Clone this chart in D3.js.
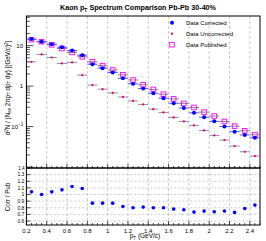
<!DOCTYPE html>
<html>
<head>
<meta charset="utf-8">
<script src="https://cdn.jsdelivr.net/npm/d3@7"></script>
<style>
  body { margin: 0; background: #fff; }
  text { font-family: "Liberation Sans", Arial, sans-serif; }
</style>
</head>
<body>
<svg id="chart" width="266" height="241"></svg>
<script>
// bin centres (GeV/c), bin width 0.1
var ptBins = [0.25, 0.35, 0.45, 0.55, 0.65, 0.75, 0.85, 0.95, 1.05, 1.15, 1.25, 1.35,
  1.45, 1.55, 1.65, 1.75, 1.85, 1.95, 2.05, 2.15, 2.25, 2.35, 2.45];
var published = [14, 12.5, 10.5, 8.5, 6.8, 5.3, 4.0, 3.2, 2.5, 1.9, 1.42, 1.08,
  0.83, 0.63, 0.485, 0.374, 0.298, 0.228, 0.182, 0.134, 0.103, 0.079, 0.063];
var corrected = [14.6, 12.5, 10.9, 9.1, 7.6, 5.8, 3.48, 2.78, 2.18, 1.56, 1.14, 0.875,
  0.664, 0.504, 0.378, 0.288, 0.219, 0.171, 0.135, 0.1005, 0.0752, 0.0624, 0.0529];
var uncorrected = [3.98, 6.07, 5.1, 3.63, 3.85, 1.87, 1.06, 0.84, 0.68, 0.54, 0.43, 0.353,
  0.27, 0.224, 0.169, 0.134, 0.107, 0.0805, 0.0607, 0.0464, 0.033, 0.0239, 0.0187];
var ratio = [1.04, 1.0, 1.04, 1.07, 1.12, 1.09, 0.87, 0.87, 0.87, 0.82, 0.80, 0.81,
  0.80, 0.80, 0.78, 0.77, 0.735, 0.75, 0.74, 0.75, 0.73, 0.79, 0.84];
var xTicks = [0.2, 0.4, 0.6, 0.8, 1, 1.2, 1.4, 1.6, 1.8, 2, 2.2, 2.4];
var ratioTicks = [0.6, 0.7, 0.8, 0.9, 1, 1.1, 1.2, 1.3];
var legendNames = ["Data Corrected", "Data Uncorrected", "Data Published"];

var svg = d3.select("#chart");
var x0 = 26.4, x1 = 260;
var top0 = 16, top1 = 168, bot0 = 168, bot1 = 225;
var halfBin = 0.05;

var x = d3.scaleLinear().domain([0.2, 2.5]).range([x0, x1]);
var y = d3.scaleLog().domain([0.0095, 54]).range([top1, top0]);
var yr = d3.scaleLinear().domain([0.54, 1.4]).range([bot1, bot0]);

// title
svg.append("text").attr("x", 138).attr("y", 10).attr("text-anchor", "middle")
  .attr("font-size", 7.2).attr("font-weight", "bold")
  .html('Kaon p<tspan dy="2" font-size="5">T</tspan><tspan dy="-2"> Spectrum Comparison Pb-Pb 30-40%</tspan>');

// vertical grid lines in both pads
[[top0, top1], [bot0, bot1]].forEach(function(r) {
  svg.append("g").selectAll("line")
    .data(xTicks.slice(1))
    .enter().append("line")
    .attr("x1", function(d) { return x(d); })
    .attr("x2", function(d) { return x(d); })
    .attr("y1", r[0]).attr("y2", r[1])
    .attr("stroke", "#bbb").attr("stroke-width", 0.8)
    .attr("stroke-dasharray", "3,2");
});

// horizontal grid in ratio pad
svg.append("g").selectAll("line")
  .data(ratioTicks)
  .enter().append("line")
  .attr("x1", x0).attr("x2", x1)
  .attr("y1", function(d) { return yr(d); })
  .attr("y2", function(d) { return yr(d); })
  .attr("stroke", "#bbb").attr("stroke-width", 0.8)
  .attr("stroke-dasharray", "2,2");

// frames
svg.append("rect").attr("x", x0).attr("y", top0).attr("width", x1 - x0).attr("height", top1 - top0)
  .attr("fill", "none").attr("stroke", "#000").attr("stroke-width", 1);
svg.append("rect").attr("x", x0).attr("y", bot0).attr("width", x1 - x0).attr("height", bot1 - bot0)
  .attr("fill", "none").attr("stroke", "#000").attr("stroke-width", 1);

// log y ticks (inward)
var logTicks = [];
[0.01, 0.1, 1, 10].forEach(function(dec) {
  for (var k = 1; k <= 9; k++) {
    var v = dec * k;
    if (v >= y.domain()[0] && v <= y.domain()[1]) logTicks.push({ v: v, major: k === 1 });
  }
});
svg.append("g").selectAll("line")
  .data(logTicks)
  .enter().append("line")
  .attr("x1", x0)
  .attr("x2", function(d) { return x0 + (d.major ? 7 : 3.5); })
  .attr("y1", function(d) { return y(d.v); })
  .attr("y2", function(d) { return y(d.v); })
  .attr("stroke", "#000").attr("stroke-width", 0.7);

var logLabels = [{ v: 10, t: "10", e: "" }, { v: 1, t: "1", e: "" }, { v: 0.1, t: "10", e: "\u22121" }];
logLabels.forEach(function(d) {
  var t = svg.append("text").attr("x", d.e ? 18 : 23).attr("y", y(d.v) + 2.2)
    .attr("text-anchor", "end").attr("font-size", 6);
  t.text(d.t);
  if (d.e) {
    svg.append("text").attr("x", 18).attr("y", y(d.v) - 0.5)
      .attr("font-size", 4.5).text(d.e);
  }
});

// x ticks top pad bottom and ratio pad bottom
var xMinor = d3.range(0.2, 2.5001, 0.05);
[top1, bot1].forEach(function(yy) {
  svg.append("g").selectAll("line")
    .data(xMinor)
    .enter().append("line")
    .attr("x1", function(d) { return x(d); })
    .attr("x2", function(d) { return x(d); })
    .attr("y1", yy)
    .attr("y2", function(d) {
      return yy - (Math.abs(d * 5 - Math.round(d * 5)) < 1e-6 ? 4 : 2);
    })
    .attr("stroke", "#000").attr("stroke-width", 0.7);
});

svg.append("g").selectAll("text")
  .data(xTicks)
  .enter().append("text")
  .attr("x", function(d) { return x(d); })
  .attr("y", bot1 + 7.5)
  .attr("text-anchor", "middle").attr("font-size", 6)
  .text(function(d) { return d3.format("")(d); });

// ratio y ticks
svg.append("g").selectAll("line")
  .data(ratioTicks.concat([1.4]))
  .enter().append("line")
  .attr("x1", x0).attr("x2", x0 + 4)
  .attr("y1", function(d) { return yr(d); })
  .attr("y2", function(d) { return yr(d); })
  .attr("stroke", "#000").attr("stroke-width", 0.7);
svg.append("g").selectAll("text")
  .data(ratioTicks)
  .enter().append("text")
  .attr("x", x0 - 2)
  .attr("y", function(d) { return yr(d) + 1.8; })
  .attr("text-anchor", "end").attr("font-size", 5)
  .text(function(d) { return d3.format("")(d); });
svg.append("text").attr("x", x0 - 2).attr("y", bot0 + 1.5).attr("text-anchor", "end")
  .attr("font-size", 4.5).text("1.4");

// axis titles
svg.append("text")
  .attr("transform", "translate(9.5," + 88 + ") rotate(-90)")
  .attr("text-anchor", "middle").attr("font-size", 6.3)
  .html('d<tspan dy="-2" font-size="4.5">2</tspan><tspan dy="2">N / (N</tspan><tspan dy="1.5" font-size="4.5">ev</tspan><tspan dy="-1.5"> 2\u03c0p</tspan><tspan dy="1.5" font-size="4.5">T</tspan><tspan dy="-1.5"> dp</tspan><tspan dy="1.5" font-size="4.5">T</tspan><tspan dy="-1.5"> dy) [(GeV/c)</tspan><tspan dy="-2" font-size="4.5">2</tspan><tspan dy="2">]</tspan>');
svg.append("text")
  .attr("transform", "translate(9.5," + 197 + ") rotate(-90)")
  .attr("text-anchor", "middle").attr("font-size", 6.3)
  .text("Corr / Pub");
svg.append("text").attr("x", 145).attr("y", 238).attr("text-anchor", "middle")
  .attr("font-size", 6.5)
  .html('p<tspan dy="1.8" font-size="4.5">T</tspan><tspan dy="-1.8"> (GeV/c)</tspan>');

// data points
var pts = ptBins.map(function(p, i) {
  return { p: p, pub: published[i], cor: corrected[i], unc: uncorrected[i], r: ratio[i] };
});

function hbars(g, key, color, sc) {
  g.selectAll("line.h" + key)
    .data(pts).enter().append("line")
    .attr("x1", function(d) { return x(d.p - halfBin); })
    .attr("x2", function(d) { return x(d.p + halfBin); })
    .attr("y1", function(d) { return sc(d[key]); })
    .attr("y2", function(d) { return sc(d[key]); })
    .attr("stroke", color).attr("stroke-width", 0.8);
}

var gPub = svg.append("g");
hbars(gPub, "pub", "#666", y);
gPub.selectAll("rect")
  .data(pts).enter().append("rect")
  .attr("x", function(d) { return x(d.p) - 2.3; })
  .attr("y", function(d) { return y(d.pub) - 2.3; })
  .attr("width", 4.6).attr("height", 4.6)
  .attr("fill", "none").attr("stroke", "#ff00ff").attr("stroke-width", 0.9);

var gUnc = svg.append("g");
hbars(gUnc, "unc", "#6a6ae0", y);
gUnc.selectAll("circle")
  .data(pts).enter().append("circle")
  .attr("cx", function(d) { return x(d.p); })
  .attr("cy", function(d) { return y(d.unc); })
  .attr("r", 1.1).attr("fill", "#ff0000");

var gCor = svg.append("g");
hbars(gCor, "cor", "#3030f0", y);
gCor.selectAll("circle")
  .data(pts).enter().append("circle")
  .attr("cx", function(d) { return x(d.p); })
  .attr("cy", function(d) { return y(d.cor); })
  .attr("r", 2).attr("fill", "#0000ff");

svg.append("g").selectAll("circle")
  .data(pts).enter().append("circle")
  .attr("cx", function(d) { return x(d.p); })
  .attr("cy", function(d) { return yr(d.r); })
  .attr("r", 1.8).attr("fill", "#0000ff");

// legend
var lg = svg.append("g");
legendNames.forEach(function(name, i) {
  var ly = 22.7 + i * 11;
  if (i === 0) lg.append("circle").attr("cx", 172).attr("cy", ly).attr("r", 2).attr("fill", "#0000ff");
  if (i === 1) lg.append("circle").attr("cx", 172).attr("cy", ly).attr("r", 1.1).attr("fill", "#ff0000");
  if (i === 2) lg.append("rect").attr("x", 169.7).attr("y", ly - 2.3).attr("width", 4.6).attr("height", 4.6)
    .attr("fill", "none").attr("stroke", "#ff00ff").attr("stroke-width", 0.9);
  lg.append("text").attr("x", 186).attr("y", ly + 2).attr("font-size", 6).text(name);
});
</script>
</body>
</html>
